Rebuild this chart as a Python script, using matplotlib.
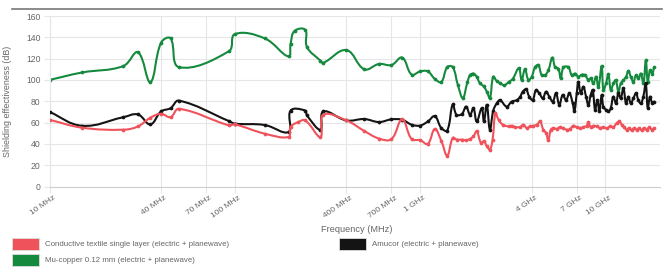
import numpy as np
import matplotlib
matplotlib.use("Agg")
import matplotlib.pyplot as plt
import matplotlib.transforms as mtransforms
from matplotlib.path import Path
from matplotlib.patches import PathPatch, Rectangle
from matplotlib.lines import Line2D
from matplotlib.ticker import NullLocator

plt.rcParams["font.family"] = ["Liberation Sans", "DejaVu Sans"]

# ---------------- data ----------------
red_f = [10, 15, 25, 30, 35, 40, 45, 50, 93, 100, 145, 195, 200, 220, 240, 290, 300,
         400, 500, 600, 700, 800, 900, 1000, 1100, 1200, 1300, 1400, 1500, 1580, 1680,
         1770, 1860, 1940, 2020, 2130, 2210, 2290, 2380, 2460, 2550, 2650, 2800, 3000,
         3120, 3250, 3460, 3610, 3760, 3920, 4080, 4260, 4440, 4620, 4780, 4920, 5070,
         5240, 5460, 5690, 5930, 6180, 6440, 6710, 7000, 7300, 7600, 7920, 8090, 8330,
         8610, 8980, 9360, 9750, 10160, 10600, 11040, 11510, 11890, 12250, 12590, 13020,
         13460, 13860, 14270, 14750, 15240, 15690, 16150, 16700, 17260, 17770, 18290]
red_db = [62.6, 55.2, 53.3, 56.4, 64.5, 68.2, 65.1, 72.9, 57.4, 58.3, 49.6, 46.5, 55.8,
          60.5, 62, 46.5, 67.3, 62, 52.1, 45, 44.5, 63, 44.5, 43.5, 40, 54, 43, 29, 45.6,
          44, 44, 43.4, 44.7, 47.1, 51.8, 40.9, 42.5, 37.8, 34.7, 44, 68.8, 62.6, 57.9,
          56.4, 57, 55.8, 55.8, 58, 54.9, 56.4, 57, 58, 61, 53.3, 50.2, 43.4, 53.3, 54.9,
          54, 55.8, 54.6, 53.3, 54, 57, 55.8, 54.9, 55.8, 57, 60.2, 55.8, 57, 56.4, 54.9,
          55.8, 54.6, 56.4, 55.8, 59.5, 61, 58, 55.8, 53.3, 54.9, 52.7, 54.9, 53.3, 54.9,
          52.7, 54.9, 53.3, 55.8, 53.3, 54.9]

black_f = [10, 15, 25, 30, 35, 40, 45, 50, 93, 100, 145, 195, 200, 240, 245, 290, 300,
           400, 500, 600, 700, 800, 900, 1000, 1100, 1200, 1300, 1400, 1500, 1570, 1680,
           1770, 1860, 1940, 2020, 2150, 2210, 2290, 2380, 2480, 2590, 2700, 2930, 3120,
           3320, 3460, 3580, 3730, 3880, 4050, 4220, 4400, 4590, 4780, 4980, 5200, 5410,
           5640, 5880, 6130, 6390, 6660, 6800, 7000, 7145, 7360, 7600, 7860, 8090, 8330,
           8540, 8790, 9050, 9270, 9550, 9740, 10080, 10370, 10680, 11030, 11410, 11740,
           12090, 12500, 12920, 13300, 13700, 14150, 14630, 15050, 15510, 16010, 16500,
           16920, 17400, 17910, 18290]
black_db = [70, 57, 65, 67.6, 58.3, 70.4, 73.5, 80.6, 61.4, 59, 57.7, 51.2, 71.3, 71.3,
            66.7, 53.3, 70.4, 62, 63.3, 60.5, 63, 62.6, 58, 57.2, 61, 66, 55, 52.5, 77,
            67.5, 68, 75, 67.3, 73.5, 61, 73.5, 61, 76.6, 53.3, 71, 78, 81, 75, 79.7, 81,
            84, 89, 91.2, 84.3, 81.2, 90.5, 87.4, 82.8, 89, 84.3, 79.7, 87.4, 76.6, 86,
            81.2, 87.4, 78, 70.4, 87.4, 98.3, 87.4, 93.6, 84.3, 76.6, 86, 90.5, 72, 81.2,
            70.4, 86, 75, 72, 70.4, 73.5, 84.3, 78, 87.4, 82.8, 92.1, 78, 84.3, 78, 82.8,
            87.4, 81.2, 78, 84.3, 96.7, 73.5, 84.3, 78, 79.7]

green_f = [10, 15, 25, 30, 35, 40, 45, 50, 93, 100, 145, 195, 200, 210, 240, 245, 290,
           300, 400, 500, 600, 700, 800, 900, 1000, 1100, 1200, 1300, 1400, 1500, 1600,
           1700, 1800, 1860, 1940, 2020, 2100, 2200, 2290, 2380, 2480, 2590, 2700, 2850,
           3000, 3160, 3410, 3530, 3680, 3840, 4000, 4170, 4345, 4530, 4720, 4920, 5170,
           5350, 5570, 5740, 5930, 6310, 6580, 6855, 7145, 7450, 7760, 8090, 8330, 8610,
           8900, 9160, 9540, 9750, 10070, 10370, 10690, 11040, 11370, 11750, 12100, 12500,
           12920, 13300, 13700, 14160, 14630, 15070, 15520, 16040, 16520, 16920, 17400,
           17900, 18290]
green_db = [100, 107, 113, 126, 98, 135, 139, 112, 127, 143, 139, 122, 134, 146, 147, 131,
            118, 116, 128, 110, 115, 114, 121, 105, 108, 108, 101, 98, 112, 112, 95, 83,
            98, 104.5, 106, 103, 97, 94, 89, 83, 103, 99, 97, 95, 98, 101, 111, 100, 110,
            100, 103, 112, 114, 104.5, 104.5, 109, 121, 112, 110.7, 101.4, 111.7, 112,
            104.5, 106, 103, 105, 104.5, 100, 101.4, 96.7, 103, 93, 113, 90.5, 96.7, 105.4,
            90.5, 96.7, 99.8, 89, 96.7, 99.8, 103, 108.5, 103, 98.3, 104.5, 101.4, 106,
            96.7, 118.4, 98.3, 109, 106, 112]

x_ticks = [10, 40, 70, 100, 400, 700, 1000, 4000, 7000, 10000]
x_tick_labels = ["10 MHz", "40 MHz", "70 MHz", "100 MHz", "400 MHz", "700 MHz",
                 "1 GHz", "4 GHz", "7 GHz", "10 GHz"]
y_ticks = [0, 20, 40, 60, 80, 100, 120, 140, 160]

series_names = ["Conductive textile single layer (electric + planewave)",
                "Amucor (electric + planewave)",
                "Mu-copper 0.12 mm (electric + planewave)"]
RED = "#f0525c"
BLACK = "#141414"
GREEN = "#158a3e"
TXT = "#666666"

# ---------------- figure ----------------
W, H = 665, 267
fig = plt.figure(figsize=(W / 100, H / 100), dpi=100)
L, R, T, B = 49.5, 660, 16, 186.5
ax = fig.add_axes([L / W, 1 - B / H, (R - L) / W, (B - T) / H])
ax.set_xscale("log")
XMIN, XMAX = 10, 19700
ax.set_xlim(XMIN, XMAX)
ax.set_ylim(0, 160)

PX_DEC = (R - L) / np.log10(XMAX / XMIN)
PX_DB = (B - T) / 160.0


def spline_path(xs, ys, t=0.4):
    X = np.log10(np.asarray(xs, float)) * PX_DEC
    Y = np.asarray(ys, float) * PX_DB
    n = len(X)
    pc, nc = [], []
    for i in range(n):
        p = max(i - 1, 0)
        q = min(i + 1, n - 1)
        d01 = np.hypot(X[i] - X[p], Y[i] - Y[p])
        d12 = np.hypot(X[q] - X[i], Y[q] - Y[i])
        s = d01 + d12
        s01 = d01 / s if s else 0
        s12 = d12 / s if s else 0
        fa, fb = t * s01, t * s12
        pc.append((X[i] - fa * (X[q] - X[p]), Y[i] - fa * (Y[q] - Y[p])))
        nc.append((X[i] + fb * (X[q] - X[p]), Y[i] + fb * (Y[q] - Y[p])))
    verts = [(X[0], Y[0])]
    codes = [Path.MOVETO]
    for i in range(n - 1):
        verts += [nc[i], pc[i + 1], (X[i + 1], Y[i + 1])]
        codes += [Path.CURVE4] * 3
    verts = np.array(verts)
    verts[:, 0] = 10 ** (verts[:, 0] / PX_DEC)
    verts[:, 1] = verts[:, 1] / PX_DB
    return Path(verts, codes)


for f, d, c, z in [(green_f, green_db, GREEN, 2), (black_f, black_db, BLACK, 3),
                   (red_f, red_db, RED, 4)]:
    ax.add_patch(PathPatch(spline_path(f, d), facecolor="none", edgecolor=c,
                           lw=1.5, zorder=z, capstyle="round", joinstyle="round"))
    ax.plot(f, d, "o", ms=2.7, color=c, zorder=z, mew=0)

# grid & axes styling
grid_c = "#e6e6e6"
ax.set_xticks(x_ticks)
ax.set_xticklabels(x_tick_labels)
ax.xaxis.set_minor_locator(NullLocator())
ax.set_yticks(y_ticks)
ax.grid(True, color=grid_c, lw=0.8, zorder=0)
for s in ["top", "right"]:
    ax.spines[s].set_visible(False)
ax.spines["left"].set_color(grid_c)
ax.spines["bottom"].set_color("#cfcfcf")
ax.tick_params(axis="both", colors=grid_c, length=4, width=0.8, labelcolor=TXT)
ax.tick_params(axis="y", pad=2.5, labelsize=6.2)
ax.tick_params(axis="x", pad=0, labelsize=6)
offset = mtransforms.ScaledTranslation(5 / 100, -5.5 / 100, fig.dpi_scale_trans)
for lab in ax.get_xticklabels():
    lab.set_rotation(35)
    lab.set_ha("right")
    lab.set_va("center")
    lab.set_rotation_mode("anchor")
    lab.set_transform(lab.get_transform() + offset)

fig.text(357 / W, 1 - 229 / H, "Frequency (MHz)", ha="center", va="center",
         fontsize=6.7, color=TXT)
fig.text(8 / W, 1 - 101 / H, "Shielding effectiveness (dB)", rotation=90,
         ha="center", va="center", fontsize=6.4, color=TXT)

# top divider line
fig.add_artist(Line2D([12 / W, 662 / W], [1 - 9 / H, 1 - 9 / H],
                      transform=fig.transFigure, color="#777777", lw=1.2))

# legend
leg = [(12, 244, RED, series_names[0]), (339, 244, BLACK, series_names[1]),
       (12, 260, GREEN, series_names[2])]
for x0, yc, c, name in leg:
    fig.add_artist(Rectangle((x0 / W, 1 - (yc + 6) / H), 27 / W, 12 / H,
                             transform=fig.transFigure, facecolor=c,
                             edgecolor="#dddddd", lw=0.6))
    fig.text((x0 + 33) / W, 1 - yc / H, name, ha="left", va="center",
             fontsize=5.7, color=TXT)

fig.savefig("out.png", dpi=100)
